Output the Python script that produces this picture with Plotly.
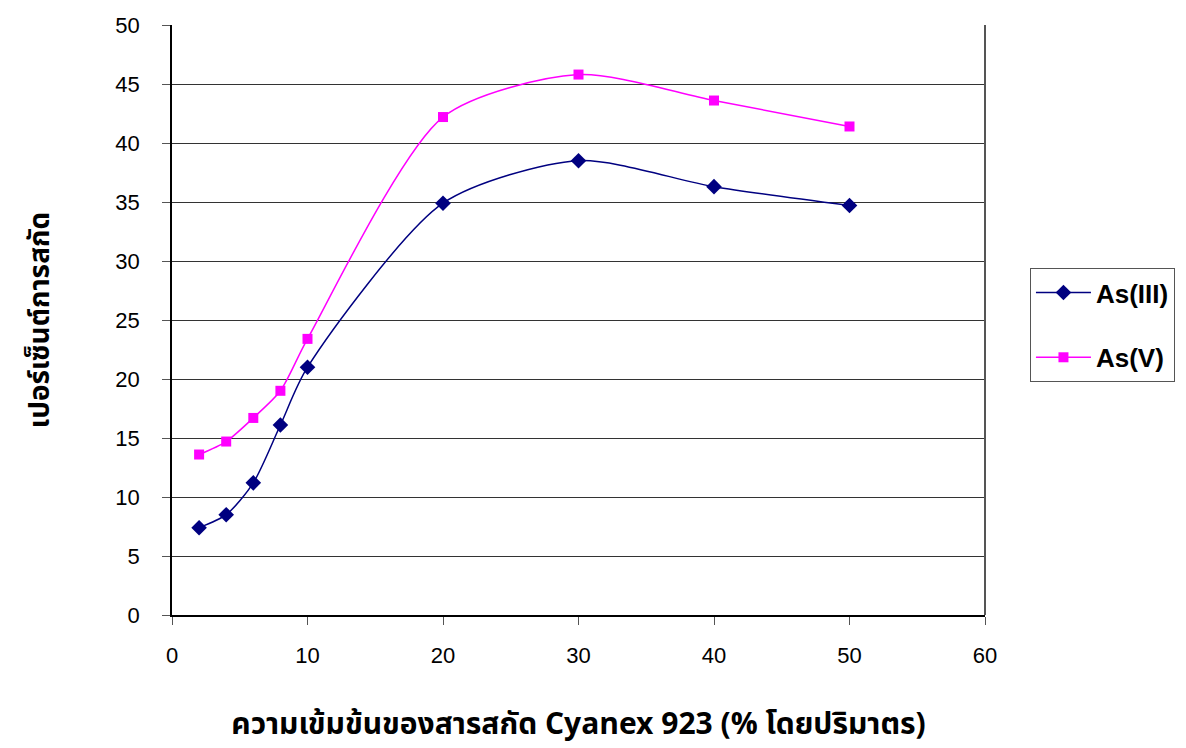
import plotly.graph_objects as go

# Extractant concentration (% v/v) and extraction percentage
conc = [2, 4, 6, 8, 10, 20, 30, 40, 50]
as_iii = [7.4, 8.5, 11.2, 16.1, 21.0, 34.9, 38.5, 36.3, 34.7]
as_v = [13.6, 14.7, 16.7, 19.0, 23.4, 42.2, 45.8, 43.6, 41.4]

x_ticks = [0, 10, 20, 30, 40, 50, 60]
y_ticks = [0, 5, 10, 15, 20, 25, 30, 35, 40, 45, 50]

sans = "Liberation Sans, Arial, sans-serif"
thai_font = "Noto Sans Thai, Noto Sans, DejaVu Sans"

fig = go.Figure()
fig.add_trace(go.Scatter(
    x=conc, y=as_iii, name="As(III)", mode="lines+markers", legendgroup="a",
    line=dict(color="#000080", width=1.5, shape="spline", smoothing=0.75),
    marker=dict(symbol="diamond", size=12, color="#000080"),
))
fig.add_trace(go.Scatter(
    x=conc, y=as_v, name="As(V)", mode="lines+markers", legendgroup="b",
    line=dict(color="#FF00FF", width=1.5, shape="spline", smoothing=0.75),
    marker=dict(symbol="square", size=10, color="#FF00FF"),
))

# grey frame on the right edge of the plot area
fig.add_shape(type="line", xref="paper", yref="paper", x0=1, x1=1, y0=0, y1=1,
              line=dict(color="#555555", width=2))

fig.update_layout(
    width=1186, height=748,
    margin=dict(l=172, r=200, t=25, b=133),
    paper_bgcolor="white", plot_bgcolor="white",
    font=dict(family=sans, size=22, color="black"),
    showlegend=True,
    legend=dict(
        x=1.054, y=0.588, xanchor="left", yanchor="top",
        bordercolor="#555555", borderwidth=1, bgcolor="white",
        font=dict(size=26, family=sans, weight="bold"),
        traceorder="grouped", tracegroupgap=28, itemwidth=55,
    ),
    xaxis=dict(
        range=[0, 60], tickvals=x_ticks, ticks="outside", ticklen=8,
        tickcolor="#555555", showline=True, linecolor="black", linewidth=1.5,
        showgrid=False, zeroline=False, ticklabelstandoff=12, automargin=False,
        title=dict(
            text="<b>ความเข้มข้นของสารสกัด Cyanex 923 (% โดยปริมาตร)</b>",
            font=dict(size=30, family=thai_font), standoff=54,
        ),
    ),
    yaxis=dict(
        range=[0, 50], tickvals=y_ticks, ticks="outside", ticklen=8,
        tickcolor="#555555", showline=True, linecolor="black", linewidth=1.5,
        showgrid=True, gridcolor="#333333", gridwidth=1, zeroline=False,
        ticklabelstandoff=18, automargin=False,
        title=dict(
            text="<b>เปอร์เซ็นต์การสกัด</b>",
            font=dict(size=28, family=thai_font), standoff=58,
        ),
    ),
)

fig.write_html("out.html")
